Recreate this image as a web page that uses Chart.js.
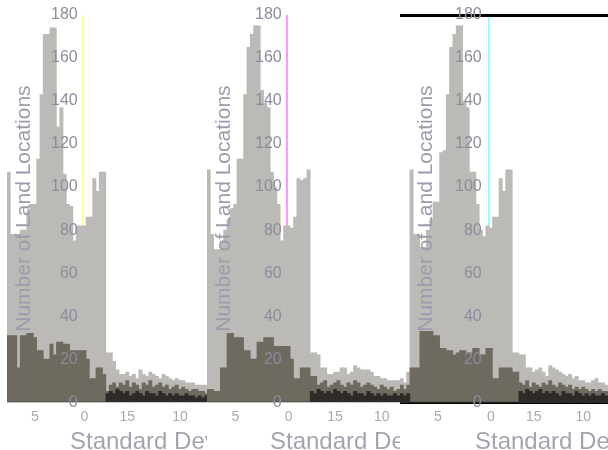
<!DOCTYPE html>
<html>
<head>
<meta charset="utf-8">
<script src="https://cdn.jsdelivr.net/npm/chart.js@4.4.1/dist/chart.umd.min.js"></script>
<style>
  html, body { margin: 0; padding: 0; background: #fff; }
  #wrap { position: relative; width: 608px; height: 450px; overflow: hidden; }
  .panel { position: absolute; top: 0; height: 450px; overflow: hidden; background: #fff; }
  .panel canvas { position: absolute; left: 0; top: 0; }
  .xtitle { position: absolute; top: 427px; line-height: 24px; font: 24px "Liberation Sans", Arial, sans-serif; color: #a4a4b0; white-space: nowrap; }
</style>
</head>
<body>
<div id="wrap">
  <div class="panel" style="left:0;width:208px">
    <canvas id="c1" width="208" height="450"></canvas>
    <div class="xtitle" style="left:70px">Standard Deviation</div>
  </div>
  <div class="panel" style="left:207px;width:203px">
    <canvas id="c2" width="203" height="450"></canvas>
    <div class="xtitle" style="left:63px">Standard Deviation</div>
  </div>
  <div class="panel" style="left:400px;width:208px">
    <canvas id="c3" width="208" height="450"></canvas>
    <div class="xtitle" style="left:75px">Standard Deviation</div>
  </div>
</div>
<script>
// histogram counts per bin
const light1 = [107,78,78,78,80,80,89,92,92,113,143,171,171,174,174,128,137,106,92,91,75,82,82,82,86,86,104,98,107,107,
  23,23,19,15,13,13,14,12,13,11,15,13,12,14,13,12,11,13,12,11,10,11,10,10,9,9,9,8,8,8,8];
const mid1 = [31,31,31,16,31,31,32,32,30,24,24,20,20,27,22,28,28,27,27,24,24,24,24,24,20,11,11,16,16,13,5,
  8,9,7,9,8,10,7,9,8,6,9,8,10,7,8,9,7,8,6,7,8,6,7,6,5,6,6,5,5,4];
const dark1 = [0,0,0,0,0,0,0,0,0,0,0,0,0,0,0,0,0,0,0,0,0,0,0,0,0,0,0,0,0,0,
  4,5,4,6,5,4,5,3,4,5,4,3,5,4,4,3,5,4,3,4,3,4,3,3,4,3,3,2,3,2,3];

const light2 = [108,78,71,71,75,80,85,90,92,113,113,143,165,171,175,175,145,139,137,107,100,92,75,82,82,81,86,104,103,104,108,
  23,23,22,16,16,13,13,14,14,16,16,13,14,17,16,15,15,15,14,12,12,11,11,10,10,10,10,9,9,8];
const mid2 = [6,6,5,5,16,16,32,32,30,30,30,24,24,20,20,28,28,30,30,30,26,26,26,26,26,20,11,11,16,16,16,12,12,
  8,9,10,7,8,9,10,8,7,9,8,10,9,7,8,9,8,7,6,8,7,6,7,5,6,6,5,6];
const dark2 = [0,0,0,0,0,0,0,0,0,0,0,0,0,0,0,0,0,0,0,0,0,0,0,0,0,0,0,0,0,0,0,
  5,4,6,5,4,5,4,6,5,4,5,4,3,5,4,4,3,5,4,3,4,3,4,3,3,4,3,2,3,3];

const light3 = [11,9,14,108,78,78,72,72,80,85,93,93,116,117,143,165,171,175,175,140,137,107,107,92,80,77,82,81,86,86,104,98,108,108,
  23,23,22,22,16,16,14,15,16,14,12,17,16,15,14,13,12,13,11,12,10,10,9,9,10,11,9,9,8];
const mid3 = [8,6,8,16,16,16,33,33,33,33,31,31,25,25,24,24,22,23,24,24,23,23,25,25,22,22,25,25,11,11,16,16,16,16,14,14,
  9,8,10,7,9,8,7,9,8,10,8,7,9,8,7,8,6,7,6,7,6,5,6,5,6,5,5];
const dark3 = [4,3,4,0,0,0,0,0,0,0,0,0,0,0,0,0,0,0,0,0,0,0,0,0,0,0,0,0,0,0,0,0,0,0,0,0,
  5,4,6,5,4,5,6,4,5,4,5,4,3,5,4,4,3,5,4,3,4,3,4,3,3,4,3];

const tickTexts = ["5", "0", "15", "10"];
const tickBins1 = [8, 23, 36, 52];
const tickBins2 = [8, 24, 38, 52];
const tickBins3 = [11, 27, 40, 55];

function makePanel(id, light, mid, dark, tickBins, zeroBin, zeroColor, opt) {
  const bins = light.map((_, i) => String(i));
  const scales = {
    x: {
      offset: true,
      grid: {
        drawTicks: true,
        tickLength: 7,
        tickColor: "rgba(0,0,0,0)",
        lineWidth: 2,
        color: c => c.index === zeroBin ? zeroColor : "rgba(0,0,0,0)"
      },
      border: opt.border ? { display: true, color: "#000", width: 3 } : { display: false },
      ticks: {
        autoSkip: false,
        maxRotation: 0,
        padding: 0,
        color: "#a8a8b4",
        font: { family: "Liberation Sans", size: 14 },
        callback: (v, i) => {
          const k = tickBins.indexOf(i);
          return k >= 0 ? tickTexts[k] : "";
        }
      }
    },
    y: {
      min: 0,
      max: 180,
      afterFit: s => { s.width = 0; s.paddingTop = 8; s.paddingBottom = 8; },
      grid: { display: false, drawTicks: false, z: 1 },
      border: { display: false },
      ticks: {
        z: 1,
        stepSize: 20,
        mirror: true,
        crossAlign: "far",
        padding: opt.labelPad,
        color: "#8c8c9c",
        font: { family: "Liberation Sans", size: 16 }
      },
      title: {
        display: true,
        text: "Number of Land Locations",
        color: "#9c9cac",
        font: { family: "Liberation Sans", size: 21 },
        padding: { top: opt.titlePad }
      }
    }
  };
  if (opt.border) {
    scales.x2 = {
      type: "category",
      position: "top",
      grid: { display: false, drawTicks: false },
      ticks: { display: false },
      border: { display: true, color: "#000", width: 3 }
    };
  }
  return new Chart(document.getElementById(id), {
    type: "bar",
    data: {
      labels: bins,
      datasets: [
        { data: dark, backgroundColor: "#2e2a28", order: 1 },
        { data: mid, backgroundColor: "#6e6a60", order: 2 },
        { data: light, backgroundColor: "#bcbab6", order: 3 }
      ]
    },
    options: {
      responsive: false,
      animation: false,
      datasets: { bar: { grouped: false, barPercentage: 1, categoryPercentage: 1, borderWidth: 0 } },
      layout: { padding: { left: opt.left, right: 0, top: 15, bottom: 24 } },
      plugins: { legend: { display: false }, tooltip: { enabled: false } },
      scales: scales
    }
  });
}

makePanel("c1", light1, mid1, dark1, tickBins1, 23, "#ffff99", { left: 7, labelPad: 44, titlePad: 5, border: false });
makePanel("c2", light2, mid2, dark2, tickBins2, 24, "#ff99ff", { left: 0, labelPad: 48, titlePad: 5, border: false });
makePanel("c3", light3, mid3, dark3, tickBins3, 27, "#99ffff", { left: 0, labelPad: 55, titlePad: 14, border: true });
</script>
</body>
</html>
